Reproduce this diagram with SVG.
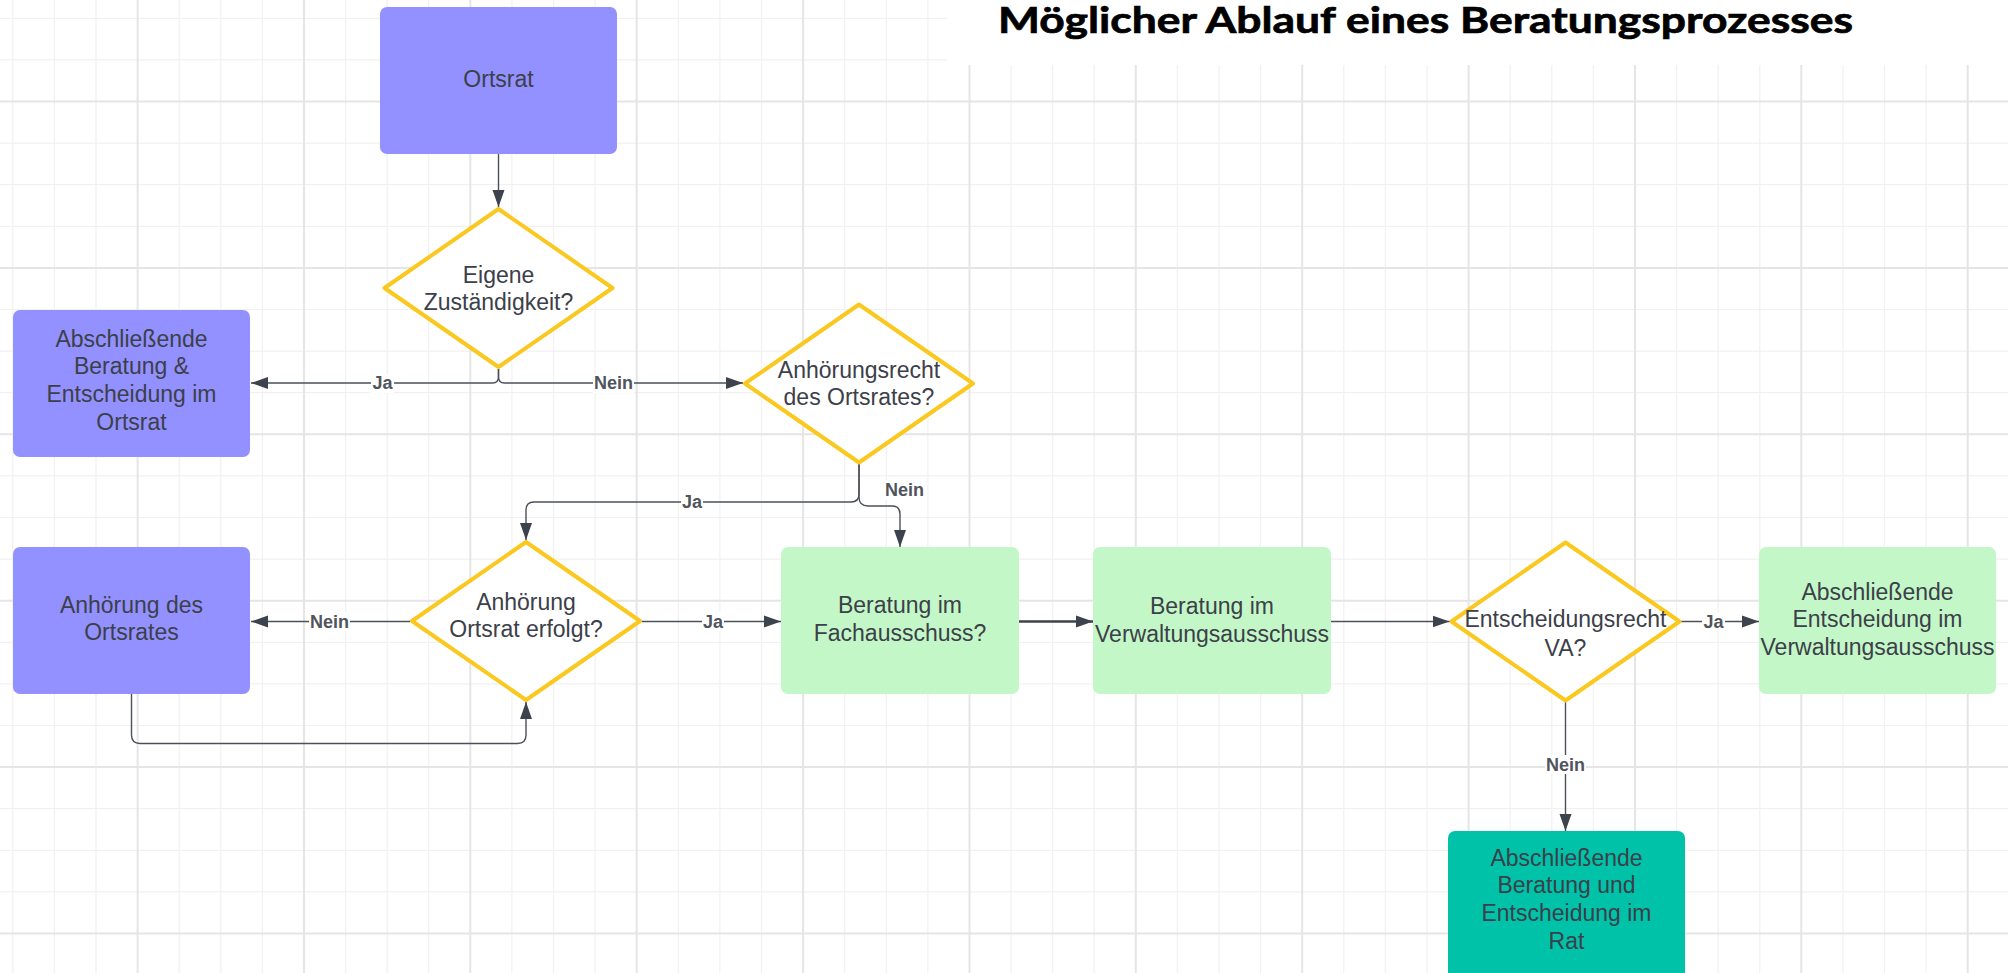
<svg xmlns="http://www.w3.org/2000/svg" width="2008" height="973" viewBox="0 0 2008 973">
<style>
.minor{fill:none;stroke:#f1f1f1;stroke-width:1.2}
.major{fill:none;stroke:#e5e5e5;stroke-width:2}
.purple{fill:#9391ff}
.green{fill:#c3f7c8}
.teal{fill:#00c2a8}
.dia{fill:#ffffff;stroke:#fac81e;stroke-width:4;stroke-linejoin:round}
.t{font-family:"Liberation Sans",Arial,sans-serif;font-size:23px;fill:#3c4049;text-anchor:middle}
.lbl{font-family:"Liberation Sans",Arial,sans-serif;font-size:18px;font-weight:bold;fill:#50555d;text-anchor:middle}
.lb{fill:#ffffff}
.c{fill:none;stroke:#4b5059;stroke-width:1.4}
.thick{stroke:#3d424b;stroke-width:2.6}
.title{font-family:Lato,"Open Sans",sans-serif;font-weight:bold;font-size:37px;fill:#000000;stroke:#000000;stroke-width:0.7}
</style>
<defs>
<marker id="ah" markerUnits="userSpaceOnUse" viewBox="0 0 18 13" markerWidth="18" markerHeight="13" refX="17" refY="6.5" orient="auto">
<path d="M0,0.5 L17,6.5 L0,12.5 z" fill="#3d434c"/>
</marker>
</defs>
<rect x="0" y="0" width="2008" height="973" fill="#ffffff"/>
<g id="grid">
<path class="minor" d="M12.8,0V973M54.4,0V973M96,0V973M179.2,0V973M220.8,0V973M262.4,0V973M345.6,0V973M387.2,0V973M428.7,0V973M511.9,0V973M553.5,0V973M595.1,0V973M678.3,0V973M719.9,0V973M761.5,0V973M844.7,0V973M886.3,0V973M927.9,0V973M1011.1,0V973M1052.7,0V973M1094.2,0V973M1177.4,0V973M1219,0V973M1260.6,0V973M1343.8,0V973M1385.4,0V973M1427,0V973M1510.2,0V973M1551.8,0V973M1593.4,0V973M1676.6,0V973M1718.2,0V973M1759.8,0V973M1842.9,0V973M1884.5,0V973M1926.1,0V973M0,18.3H2008M0,59.9H2008M0,143.1H2008M0,184.7H2008M0,226.3H2008M0,309.5H2008M0,351.1H2008M0,392.7H2008M0,475.9H2008M0,517.5H2008M0,559.1H2008M0,642.3H2008M0,683.9H2008M0,725.5H2008M0,808.7H2008M0,850.3H2008M0,891.9H2008"/>
<path class="major" d="M137.6,0V973M304,0V973M470.3,0V973M636.7,0V973M803.1,0V973M969.5,0V973M1135.8,0V973M1302.2,0V973M1468.6,0V973M1635,0V973M1801.3,0V973M1967.7,0V973M0,101.5H2008M0,267.9H2008M0,434.3H2008M0,600.7H2008M0,767.1H2008M0,933.5H2008"/>
</g>
<g id="title">
<rect x="947" y="0" width="1061" height="65" fill="#ffffff"/>
<text class="title" x="998" y="32.5" textLength="855" lengthAdjust="spacingAndGlyphs">Möglicher Ablauf eines Beratungsprozesses</text>
</g>
<g id="n-ortsrat">
<rect class="purple" x="380" y="7" width="237" height="147" rx="7"/>
<text class="t" x="498.5" y="87.3">Ortsrat</text>
</g>
<g id="n-zustaendigkeit">
<polygon class="dia" points="498.5,209 612.5,288 498.5,367 384.5,288"/>
<text class="t" x="498.5" y="283">Eigene</text>
<text class="t" x="498.5" y="310">Zuständigkeit?</text>
</g>
<g id="n-abschl-ortsrat">
<rect class="purple" x="13" y="310" width="237" height="147" rx="7"/>
<text class="t" x="131.5" y="346.5">Abschließende</text>
<text class="t" x="131.5" y="374.2">Beratung &amp;</text>
<text class="t" x="131.5" y="401.9">Entscheidung im</text>
<text class="t" x="131.5" y="429.6">Ortsrat</text>
</g>
<g id="n-anhoerungsrecht">
<polygon class="dia" points="859,304.5 973,383.5 859,462.5 745,383.5"/>
<text class="t" x="859" y="377.5">Anhörungsrecht</text>
<text class="t" x="859" y="405">des Ortsrates?</text>
</g>
<g id="n-anhoerung-erfolgt">
<polygon class="dia" points="526,542 640,621 526,700 412,621"/>
<text class="t" x="526" y="610">Anhörung</text>
<text class="t" x="526" y="637">Ortsrat erfolgt?</text>
</g>
<g id="n-anhoerung">
<rect class="purple" x="13" y="547" width="237" height="147" rx="7"/>
<text class="t" x="131.5" y="612.5">Anhörung des</text>
<text class="t" x="131.5" y="640">Ortsrates</text>
</g>
<g id="n-fach">
<rect class="green" x="781" y="547" width="238" height="147" rx="7"/>
<text class="t" x="900" y="613.3">Beratung im</text>
<text class="t" x="900" y="641">Fachausschuss?</text>
</g>
<g id="n-verw">
<rect class="green" x="1093" y="547" width="238" height="147" rx="7"/>
<text class="t" x="1212" y="614.3">Beratung im</text>
<text class="t" x="1212" y="641.7">Verwaltungsausschuss</text>
</g>
<g id="n-entscheidungsrecht">
<polygon class="dia" points="1565.5,542.5 1679.5,621.5 1565.5,700.5 1451.5,621.5"/>
<text class="t" x="1565.5" y="627.3">Entscheidungsrecht</text>
<text class="t" x="1565.5" y="655.7">VA?</text>
</g>
<g id="n-abschl-va">
<rect class="green" x="1759" y="547" width="237" height="147" rx="7"/>
<text class="t" x="1877.5" y="600">Abschließende</text>
<text class="t" x="1877.5" y="627.3">Entscheidung im</text>
<text class="t" x="1877.5" y="655">Verwaltungsausschuss</text>
</g>
<g id="n-rat">
<rect class="teal" x="1448" y="831" width="237" height="160" rx="7"/>
<text class="t" x="1566.5" y="865.7">Abschließende</text>
<text class="t" x="1566.5" y="893.3">Beratung und</text>
<text class="t" x="1566.5" y="920.7">Entscheidung im</text>
<text class="t" x="1566.5" y="949">Rat</text>
</g>
<g id="connectors">
<path class="c" marker-end="url(#ah)" d="M498.5,154 L498.5,207"/>
<path class="c" marker-end="url(#ah)" d="M498.5,369 L498.5,377 Q498.5,383 492.5,383 L251,383"/>
<path class="c" marker-end="url(#ah)" d="M498.5,369 L498.5,377 Q498.5,383 504.5,383 L743,383"/>
<path class="c" marker-end="url(#ah)" d="M859,464.5 L859,494 Q859,502 851,502 L534,502 Q526,502 526,510 L526,540"/>
<path class="c" marker-end="url(#ah)" d="M859,464.5 L859,497 Q859,506 868,506 L892,506 Q900,506 900,514 L900,547"/>
<path class="c" marker-end="url(#ah)" d="M410,621.5 L251,621.5"/>
<path class="c" marker-end="url(#ah)" d="M642,621.5 L781,621.5"/>
<path class="c" marker-end="url(#ah)" d="M131.5,694 L131.5,735 Q131.5,743.5 140,743.5 L517.5,743.5 Q526,743.5 526,735 L526,702"/>
<path class="c thick" marker-end="url(#ah)" d="M1019,621.5 L1093,621.5"/>
<path class="c" marker-end="url(#ah)" d="M1331,621.5 L1449.5,621.5"/>
<path class="c" marker-end="url(#ah)" d="M1681.5,621.5 L1759,621.5"/>
<path class="c" marker-end="url(#ah)" d="M1565.5,702.5 L1565.5,831"/>
<g id="labels">
<rect class="lb" x="371" y="374" width="23" height="19"/>
<text class="lbl" x="382.5" y="389">Ja</text>
<rect class="lb" x="593" y="374" width="41" height="19"/>
<text class="lbl" x="613.5" y="389">Nein</text>
<rect class="lb" x="681" y="493" width="22" height="19"/>
<text class="lbl" x="692" y="508">Ja</text>
<rect class="lb" x="884" y="480" width="42" height="20"/>
<text class="lbl" x="904.5" y="495.7">Nein</text>
<rect class="lb" x="309" y="612" width="41" height="19"/>
<text class="lbl" x="329.5" y="628">Nein</text>
<rect class="lb" x="702" y="612" width="22" height="19"/>
<text class="lbl" x="713" y="628">Ja</text>
<rect class="lb" x="1702" y="612" width="23" height="19"/>
<text class="lbl" x="1713.5" y="627.5">Ja</text>
<rect class="lb" x="1545" y="755" width="41" height="19"/>
<text class="lbl" x="1565.5" y="770.5">Nein</text>
</g>
</g>
</svg>
